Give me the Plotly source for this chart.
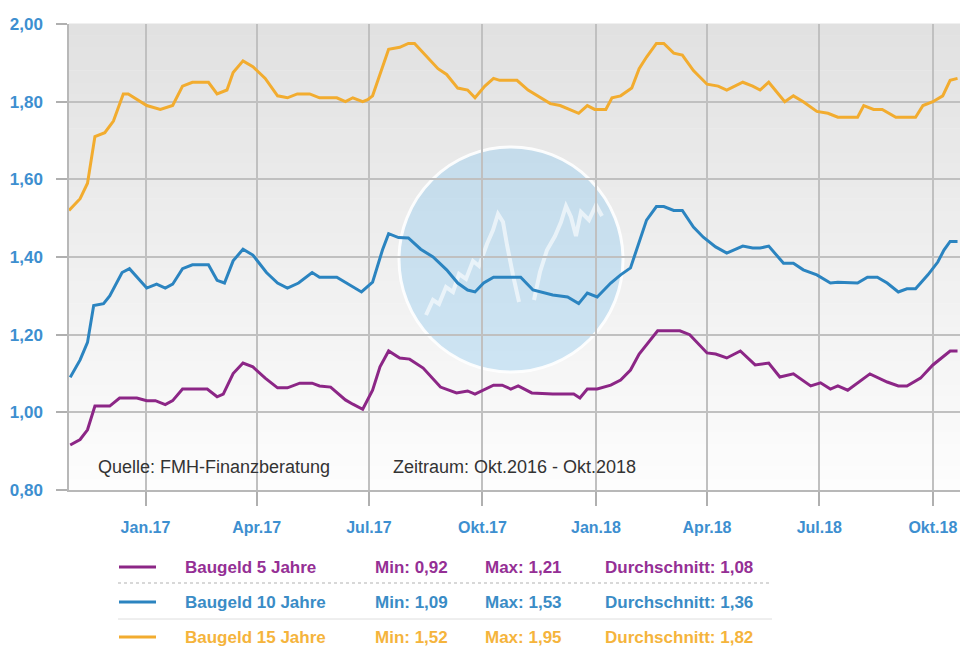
import plotly.graph_objects as go

# ---------------- data ----------------
dates_15 = ["2016-10-31","2016-11-09","2016-11-15","2016-11-21","2016-11-29","2016-12-06","2016-12-14","2016-12-18",
            "2017-01-02","2017-01-13","2017-01-23","2017-01-31","2017-02-08","2017-02-21","2017-02-28","2017-03-08",
            "2017-03-13","2017-03-21","2017-03-29","2017-04-08","2017-04-18","2017-04-26","2017-05-04","2017-05-14",
            "2017-05-22","2017-06-05","2017-06-12","2017-06-18","2017-06-26","2017-06-30","2017-07-04","2017-07-12",
            "2017-07-17","2017-07-26","2017-08-02","2017-08-07","2017-08-17","2017-08-26","2017-09-02","2017-09-11",
            "2017-09-19","2017-09-25","2017-10-03","2017-10-10","2017-10-15","2017-10-29","2017-11-07","2017-11-17",
            "2017-11-25","2017-12-03","2017-12-10","2017-12-18","2017-12-25","2017-12-31","2018-01-09","2018-01-14",
            "2018-01-21","2018-01-30","2018-02-05","2018-02-11","2018-02-19","2018-02-25","2018-03-05","2018-03-12",
            "2018-03-21","2018-04-01","2018-04-10","2018-04-17","2018-04-30","2018-05-08","2018-05-14","2018-05-21",
            "2018-06-03","2018-06-10","2018-06-18","2018-06-29","2018-07-08","2018-07-16","2018-08-01","2018-08-06",
            "2018-08-14","2018-08-21","2018-09-01","2018-09-17","2018-09-23","2018-10-01","2018-10-09","2018-10-15",
            "2018-10-21"]
vals_15 = [1.52,1.55,1.59,1.71,1.72,1.75,1.82,1.82,
           1.79,1.78,1.79,1.84,1.85,1.85,1.82,1.83,
           1.875,1.905,1.89,1.86,1.815,1.81,1.82,1.82,
           1.81,1.81,1.80,1.81,1.80,1.805,1.815,1.89,
           1.935,1.94,1.95,1.95,1.915,1.885,1.87,1.835,
           1.83,1.81,1.84,1.86,1.855,1.855,1.83,1.81,
           1.795,1.79,1.78,1.77,1.79,1.78,1.78,1.81,
           1.815,1.835,1.885,1.915,1.95,1.95,1.925,1.92,
           1.88,1.845,1.84,1.83,1.85,1.84,1.83,1.85,
           1.80,1.815,1.80,1.775,1.77,1.76,1.76,1.79,
           1.78,1.78,1.76,1.76,1.79,1.80,1.815,1.855,
           1.86]

dates_10 = ["2016-11-01","2016-11-09","2016-11-15","2016-11-20","2016-11-28","2016-12-03","2016-12-13","2016-12-19",
            "2017-01-02","2017-01-10","2017-01-17","2017-01-23","2017-01-31","2017-02-08","2017-02-21","2017-02-28",
            "2017-03-06","2017-03-13","2017-03-21","2017-03-29","2017-04-09","2017-04-18","2017-04-26","2017-05-05",
            "2017-05-16","2017-05-22","2017-06-05","2017-06-16","2017-06-25","2017-07-04","2017-07-12","2017-07-17",
            "2017-07-25","2017-08-02","2017-08-12","2017-08-22","2017-09-02","2017-09-11","2017-09-19","2017-09-25",
            "2017-10-02","2017-10-10","2017-11-01","2017-11-11","2017-11-27","2017-12-09","2017-12-18","2017-12-25",
            "2018-01-02","2018-01-13","2018-01-21","2018-01-29","2018-02-03","2018-02-11","2018-02-19","2018-02-25",
            "2018-03-05","2018-03-12","2018-03-21","2018-03-29","2018-04-08","2018-04-17","2018-04-30","2018-05-08",
            "2018-05-14","2018-05-21","2018-06-02","2018-06-10","2018-06-18","2018-06-29","2018-07-10","2018-07-16",
            "2018-08-01","2018-08-09","2018-08-17","2018-08-25","2018-09-03","2018-09-10","2018-09-17","2018-09-27",
            "2018-10-05","2018-10-10","2018-10-15","2018-10-21"]
vals_10 = [1.09,1.135,1.18,1.275,1.28,1.30,1.36,1.37,
           1.32,1.33,1.32,1.33,1.37,1.38,1.38,1.34,
           1.333,1.39,1.42,1.405,1.36,1.333,1.32,1.333,
           1.36,1.348,1.348,1.328,1.31,1.335,1.418,1.46,
           1.45,1.449,1.42,1.40,1.367,1.333,1.315,1.31,
           1.333,1.348,1.348,1.315,1.302,1.297,1.28,1.307,
           1.297,1.333,1.354,1.372,1.418,1.495,1.53,1.53,
           1.52,1.52,1.477,1.451,1.426,1.41,1.428,1.423,
           1.423,1.428,1.384,1.384,1.367,1.354,1.333,1.335,
           1.333,1.348,1.348,1.333,1.31,1.318,1.318,1.354,
           1.387,1.418,1.44,1.44]

dates_5 = ["2016-11-01","2016-11-09","2016-11-15","2016-11-21","2016-12-03","2016-12-11","2016-12-25","2017-01-02",
           "2017-01-09","2017-01-17","2017-01-23","2017-01-31","2017-02-20","2017-02-28","2017-03-05","2017-03-13",
           "2017-03-21","2017-03-29","2017-04-08","2017-04-18","2017-04-26","2017-05-06","2017-05-16","2017-05-22",
           "2017-05-31","2017-06-12","2017-06-18","2017-06-26","2017-07-04","2017-07-10","2017-07-17","2017-07-26",
           "2017-08-03","2017-08-14","2017-08-28","2017-09-04","2017-09-10","2017-09-19","2017-09-25","2017-10-10",
           "2017-10-17","2017-10-24","2017-10-30","2017-11-10","2017-11-27","2017-12-14","2017-12-19","2017-12-25",
           "2018-01-02","2018-01-13","2018-01-21","2018-01-29","2018-02-05","2018-02-20","2018-03-10","2018-03-18",
           "2018-04-01","2018-04-08","2018-04-17","2018-04-28","2018-05-10","2018-05-21","2018-05-30","2018-06-10",
           "2018-06-24","2018-07-02","2018-07-10","2018-07-16","2018-07-24","2018-08-11","2018-08-25","2018-09-03",
           "2018-09-10","2018-09-21","2018-10-01","2018-10-15","2018-10-21"]
vals_5 = [0.916,0.93,0.955,1.016,1.016,1.037,1.037,1.03,
          1.03,1.02,1.03,1.06,1.06,1.04,1.047,1.10,
          1.127,1.117,1.088,1.063,1.063,1.075,1.075,1.068,
          1.065,1.032,1.021,1.008,1.057,1.117,1.158,1.14,
          1.137,1.114,1.065,1.057,1.05,1.055,1.047,1.07,
          1.07,1.06,1.068,1.05,1.047,1.047,1.037,1.06,
          1.06,1.07,1.083,1.109,1.15,1.21,1.21,1.20,
          1.153,1.15,1.14,1.158,1.122,1.127,1.091,1.099,
          1.068,1.076,1.06,1.068,1.057,1.099,1.078,1.068,
          1.068,1.088,1.122,1.158,1.158]

series_names = ["Baugeld 5 Jahre", "Baugeld 10 Jahre", "Baugeld 15 Jahre"]
series_min = ["0,92", "1,09", "1,52"]
series_max = ["1,21", "1,53", "1,95"]
series_avg = ["1,08", "1,36", "1,82"]

x_tickvals = ["2017-01-01","2017-04-01","2017-07-01","2017-10-01","2018-01-01","2018-04-01","2018-07-01","2018-10-01"]
x_ticktext = ["Jan.17","Apr.17","Jul.17","Okt.17","Jan.18","Apr.18","Jul.18","Okt.18"]
y_tickvals = [0.8, 1.0, 1.2, 1.4, 1.6, 1.8, 2.0]
x_range = ["2016-10-31", "2018-10-23"]

# ---------------- styling ----------------
FONT = "Liberation Sans, Arial, sans-serif"
LINE_COLORS = ["#8c2686", "#2b84c0", "#f2ac2f"]
TEXT_COLORS = ["#952f95", "#3a8cc6", "#f5b43c"]
TICK_BLUE = "#3d8fd0"
GRID = "#c0c0c0"

W, H = 960, 646
ML, MR, MT, MB = 69, 0, 24, 646 - 490
PW, PH = W - ML - MR, H - MT - MB

def px_to_paper(xp, yp):
    """page pixel -> paper fraction of plot area"""
    return (xp - ML) / PW, (H - MB - yp) / PH

fig = go.Figure()
all_series = [(dates_5, vals_5), (dates_10, vals_10), (dates_15, vals_15)]
for (d, v), name, col in zip(all_series, series_names, LINE_COLORS):
    fig.add_trace(go.Scatter(x=d, y=v, mode="lines", name=name,
                             line=dict(color=col, width=3), showlegend=False))

shapes = []
# background gradient (grey at top -> white at bottom)
N = 40
for i in range(N):
    t = (i + 0.5) / N
    c = int(round(253 - 28 * t))
    shapes.append(dict(type="rect", xref="x domain", yref="y domain",
                       x0=0, x1=1, y0=i / N, y1=(i + 1) / N + 0.001,
                       fillcolor=f"rgb({c},{c},{c})", line=dict(width=0), layer="below"))

# watermark circle
cx0, cy0 = px_to_paper(399, 147)
cx1, cy1 = px_to_paper(623, 372)
shapes.append(dict(type="circle", xref="x domain", yref="y domain",
                   x0=cx0, x1=cx1, y0=cy1, y1=cy0,
                   fillcolor="rgba(140,200,240,0.38)", line=dict(color="rgba(255,255,255,0.9)", width=3),
                   layer="below"))
# watermark zigzag (decoration)
WATERMARK_PTS = [(426, 315), (433, 300), (439, 304), (446, 287), (453, 292), (459, 274), (466, 279),
                 (473, 261), (479, 266), (487, 244), (493, 230), (498, 214), (503, 222), (507, 245),
                 (513, 275), (519, 302)]
WATERMARK_PTS2 = [(534, 300), (540, 272), (547, 250), (555, 236), (561, 222), (566, 206), (571, 217),
                  (576, 236), (581, 212), (589, 220), (596, 205), (602, 216)]
for pts in (WATERMARK_PTS, WATERMARK_PTS2):
    path = ""
    for k, (a, b) in enumerate(pts):
        pa, pb = px_to_paper(a, b)
        path += ("M" if k == 0 else "L") + f"{pa:.4f},{pb:.4f}"
    shapes.append(dict(type="path", xref="x domain", yref="y domain", path=path,
                       line=dict(color="rgba(255,255,255,0.6)", width=4), layer="below"))

# legend table separators
lx0, _ = px_to_paper(118, 0)
lx1, _ = px_to_paper(772, 0)
_, sy1 = px_to_paper(0, 583)
_, sy2 = px_to_paper(0, 619)
shapes.append(dict(type="line", xref="paper", yref="paper", x0=lx0, x1=lx1, y0=sy1, y1=sy1,
                   line=dict(color="#d8d8d8", width=2, dash="dot")))
shapes.append(dict(type="line", xref="paper", yref="paper", x0=lx0, x1=lx1, y0=sy2, y1=sy2,
                   line=dict(color="#dedede", width=1)))

annotations = []
row_y = [567, 602, 637]
for i in range(3):
    _, ry = px_to_paper(0, row_y[i])
    a0, _ = px_to_paper(119, 0)
    a1, _ = px_to_paper(156, 0)
    shapes.append(dict(type="line", xref="paper", yref="paper", x0=a0, x1=a1, y0=ry, y1=ry,
                       line=dict(color=LINE_COLORS[i], width=3)))
    cols = [(183, series_names[i]), (373, "Min: " + series_min[i]),
            (483, "Max: " + series_max[i]), (603, "Durchschnitt: " + series_avg[i])]
    for xp, txt in cols:
        ax, _ = px_to_paper(xp, 0)
        annotations.append(dict(x=ax, y=ry, xref="paper", yref="paper", text=txt, showarrow=False,
                                xanchor="left", yanchor="middle",
                                font=dict(family=FONT, size=17, color=TEXT_COLORS[i], weight="bold")))

qx, qy = px_to_paper(96, 467)
annotations.append(dict(x=qx, y=qy, xref="paper", yref="paper", text="Quelle: FMH-Finanzberatung",
                        showarrow=False, xanchor="left", yanchor="middle",
                        font=dict(family=FONT, size=18, color="#333333")))
zx, _ = px_to_paper(391, 0)
annotations.append(dict(x=zx, y=qy, xref="paper", yref="paper", text="Zeitraum: Okt.2016 - Okt.2018",
                        showarrow=False, xanchor="left", yanchor="middle",
                        font=dict(family=FONT, size=18, color="#333333")))

fig.update_layout(
    width=W, height=H,
    margin=dict(l=ML, r=MR, t=MT, b=MB, pad=0),
    paper_bgcolor="white", plot_bgcolor="white",
    separators=", ",
    shapes=shapes, annotations=annotations,
    showlegend=False,
    xaxis=dict(type="date", range=x_range, tickvals=x_tickvals, ticktext=x_ticktext,
               showgrid=True, gridcolor=GRID, gridwidth=1.5,
               ticks="outside", ticklen=14, tickcolor="#b0b0b0", tickwidth=1.5,
               showline=True, linecolor="#b8b8b8", linewidth=2,
               tickfont=dict(family=FONT, size=16, color=TICK_BLUE, weight="bold"),
               ticklabelstandoff=8, zeroline=False, fixedrange=True, automargin=False),
    yaxis=dict(range=[0.8, 2.0], tickvals=y_tickvals, tickformat=".2f",
               showgrid=True, gridcolor=GRID, gridwidth=1.5,
               ticks="outside", ticklen=11, tickcolor="#b0b0b0", tickwidth=1.5,
               showline=True, linecolor="#b8b8b8", linewidth=1.5,
               tickfont=dict(family=FONT, size=17, color=TICK_BLUE, weight="bold"),
               ticklabelstandoff=10, zeroline=False, fixedrange=True, automargin=False),
)

fig.write_html("out.html", config={"displayModeBar": False},
               post_script="document.body.style.margin='0';document.body.style.overflow='hidden';")
